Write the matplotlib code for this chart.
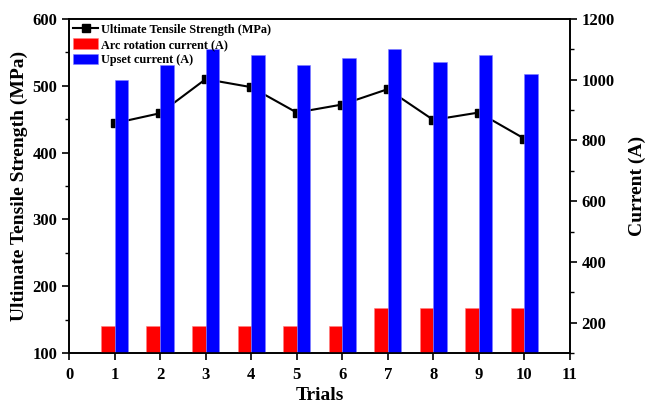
import numpy as np
import matplotlib.pyplot as plt
from matplotlib.ticker import MultipleLocator

plt.rcParams['font.family'] = ['Liberation Serif', 'DejaVu Serif']
plt.rcParams['font.weight'] = 'bold'

trials = np.arange(1, 11)
uts = [444, 459, 510, 498, 460, 472, 495, 449, 460, 421]
arc_current = [190, 190, 190, 190, 190, 190, 250, 250, 250, 250]
upset_current = [1000, 1050, 1100, 1080, 1050, 1070, 1100, 1060, 1080, 1020]

fig = plt.figure(figsize=(6.46, 4.04), dpi=100)
ax = fig.add_axes([0.107, 0.126, 0.775, 0.827])
ax2 = ax.twinx()

line, = ax.plot(trials, uts, color='black', lw=1.5, marker='s', ms=6,
                label='Ultimate Tensile Strength (MPa)')
w = 0.3
b1 = ax2.bar(trials - w / 2, arc_current, width=w, color='#ff0000',
             edgecolor='#ff8080', lw=0.4, label='Arc rotation current (A)')
b2 = ax2.bar(trials + w / 2, upset_current, width=w, color='#0000ff',
             edgecolor='#8080ff', lw=0.4, label='Upset current (A)')

ax.set_xlim(0, 11)
ax.set_ylim(100, 600)
ax2.set_ylim(100, 1200)
ax.set_xticks(range(0, 12))
ax.yaxis.set_major_locator(MultipleLocator(100))
ax.yaxis.set_minor_locator(MultipleLocator(50))
ax2.set_yticks([200, 400, 600, 800, 1000, 1200])
ax2.yaxis.set_minor_locator(MultipleLocator(100))

for a in (ax, ax2):
    a.tick_params(which='major', length=5, width=1.2, labelsize=12)
    a.tick_params(which='minor', length=3, width=1.0)
    for s in a.spines.values():
        s.set_linewidth(1.2)
ax.tick_params(axis='x', pad=5)

ax.set_xlabel('Trials', fontsize=14, fontweight='bold', labelpad=3)
ax.set_ylabel('Ultimate Tensile Strength (MPa)', fontsize=14, fontweight='bold', labelpad=3)
ax2.set_ylabel('Current (A)', fontsize=14, fontweight='bold', labelpad=10)

ax2.legend([line, b1, b2], [line.get_label(), b1.get_label(), b2.get_label()],
           loc='upper left', frameon=False, fontsize=8.8, borderaxespad=0.0,
           borderpad=0.35, handlelength=2.0, handleheight=0.95,
           handletextpad=0.25, labelspacing=0.22)

fig.savefig('out.png', dpi=100)
